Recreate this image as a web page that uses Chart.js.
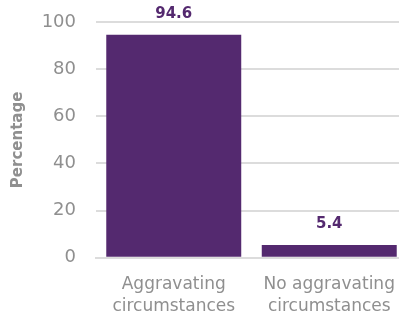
<!DOCTYPE html>
<html>
<head>
<meta charset="utf-8">
<script src="https://cdn.jsdelivr.net/npm/chart.js@4"></script>
<style>
    html, body { margin: 0; padding: 0; background: #fff; overflow: hidden; }
    /* canvas a little wider than the window: the plot runs off the right edge as in the original */
    #wrap { width: 407px; height: 320px; }
</style>
</head>
<body>
<div id="wrap"><canvas id="chart" width="407" height="320"></canvas></div>
<script>
const categories = [["Aggravating", "circumstances"], ["No aggravating", "circumstances"]];
const percentages = [94.6, 5.4];
const yTicks = [0, 20, 40, 60, 80, 100];

const barColor = "#54296f";
const textGray = "#8f8f8f";

// writes the value above each bar
const valueLabels = {
    id: "valueLabels",
    afterDatasetsDraw(chart) {
        const ctx = chart.ctx;
        const meta = chart.getDatasetMeta(0);
        ctx.save();
        ctx.fillStyle = barColor;
        ctx.font = "bold 15px 'DejaVu Sans', sans-serif";
        ctx.textAlign = "center";
        ctx.textBaseline = "middle";
        meta.data.forEach((bar, i) => {
            ctx.fillText(percentages[i].toFixed(1), bar.x, bar.y - 21);
        });
        ctx.restore();
    }
};

new Chart(document.getElementById("chart"), {
    type: "bar",
    data: {
        labels: categories,
        datasets: [
            {
                data: percentages,
                backgroundColor: barColor,
                barPercentage: 0.868,
                categoryPercentage: 1
            }
        ]
    },
    options: {
        responsive: false,
        animation: false,
        layout: {
            padding: { top: 22, right: 0, left: 9, bottom: -6 }
        },
        plugins: {
            legend: { display: false },
            tooltip: { enabled: false }
        },
        scales: {
            x: {
                grid: { display: false },
                border: { color: "#dcdcdc", width: 2 },
                ticks: {
                    color: textGray,
                    font: { size: 17, family: "'DejaVu Sans', sans-serif", lineHeight: 1.3 },
                    padding: 8,
                    maxRotation: 0
                }
            },
            y: {
                min: 0,
                max: 100,
                afterBuildTicks(axis) {
                    axis.ticks = yTicks.map((v) => ({ value: v }));
                },
                afterFit(axis) {
                    axis.width = 87;
                    axis.paddingTop = 0;
                    axis.paddingBottom = 0;
                },
                grid: {
                    color: "#dcdcdc",
                    lineWidth: 2,
                    drawTicks: false
                },
                border: { display: false },
                ticks: {
                    color: textGray,
                    font: { size: 18, family: "'DejaVu Sans', sans-serif" },
                    padding: 20
                },
                title: {
                    display: true,
                    text: "Percentage",
                    color: textGray,
                    font: { size: 15, weight: "bold", family: "'DejaVu Sans', sans-serif" },
                    padding: { top: 0, bottom: 6 }
                }
            }
        }
    },
    plugins: [valueLabels]
});
</script>
</body>
</html>
